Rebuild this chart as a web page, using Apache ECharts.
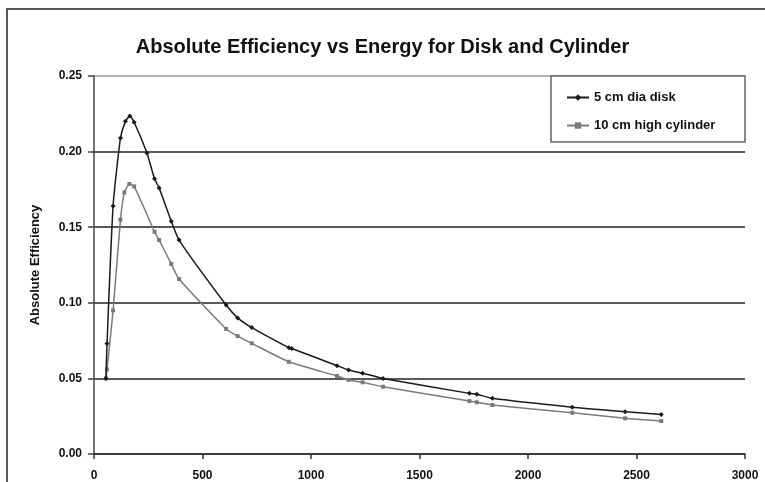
<!DOCTYPE html>
<html>
<head>
<meta charset="utf-8">
<script src="https://cdn.jsdelivr.net/npm/echarts@6/dist/echarts.min.js"></script>
<style>
  html, body { margin: 0; padding: 0; background: #fff; }
  #chart { width: 765px; height: 482px; }
</style>
</head>
<body>
<div id="chart"></div>
<script>
// energy (keV) and absolute efficiency
let diskEnergy = [55, 60, 88, 122, 145, 165, 185, 244, 279, 300, 356, 392, 609, 662, 727, 898, 911, 1120, 1173, 1238, 1332, 1730, 1764, 1836, 2204, 2448, 2614];
let diskEff = [0.050, 0.073, 0.164, 0.209, 0.220, 0.2235, 0.2194, 0.199, 0.182, 0.176, 0.154, 0.1415, 0.0985, 0.090, 0.0836, 0.0703, 0.0698, 0.0584, 0.0556, 0.0534, 0.050, 0.0401, 0.0395, 0.0368, 0.0309, 0.028, 0.0262];
let cylEnergy = [55, 60, 88, 122, 140, 163, 185, 279, 300, 356, 392, 609, 662, 727, 898, 1120, 1173, 1238, 1332, 1730, 1764, 1836, 2204, 2448, 2614];
let cylEff = [0.050, 0.056, 0.095, 0.155, 0.173, 0.1786, 0.177, 0.147, 0.1415, 0.1257, 0.1157, 0.0827, 0.078, 0.0732, 0.061, 0.0516, 0.049, 0.0474, 0.0445, 0.035, 0.0342, 0.0324, 0.0273, 0.0236, 0.0218];
let seriesNames = ['5 cm dia disk', '10 cm high cylinder'];

function pairs(xs, ys) {
  return xs.map(function (x, i) { return [x, ys[i]]; });
}

let myEchart = echarts.init(document.getElementById('chart'));
let font = '"Liberation Sans", Arial, sans-serif';
let option = {
  animation: false,
  backgroundColor: '#fff',
  title: {
    text: 'Absolute Efficiency vs Energy for Disk and Cylinder',
    left: 'center',
    top: 32,
    textStyle: { fontFamily: font, fontSize: 20, fontWeight: 'bold', color: '#111' }
  },
  legend: {
    data: seriesNames,
    orient: 'vertical',
    left: 561,
    top: 86,
    z: 10,
    itemGap: 15,
    itemWidth: 22,
    itemHeight: 8,
    textStyle: { fontFamily: font, fontSize: 13, fontWeight: 'bold', color: '#111' }
  },
  graphic: [
    {
      type: 'rect',
      shape: { x: 7, y: 9, width: 800, height: 500 },
      style: { fill: null, stroke: '#222', lineWidth: 1.5 },
      z: -1
    },
    {
      type: 'rect',
      shape: { x: 551, y: 76, width: 194, height: 66 },
      style: { fill: '#fff', stroke: '#666', lineWidth: 1.5 },
      z: 4
    }
  ],
  grid: { left: 94, right: 20, top: 76, bottom: 28 },
  xAxis: {
    type: 'value',
    min: 0,
    max: 3000,
    interval: 500,
    axisLine: { onZero: false, lineStyle: { color: '#333', width: 1.5 } },
    axisTick: { inside: false, length: 5, lineStyle: { color: '#333', width: 1.5 } },
    axisLabel: {
      margin: 16,
      fontFamily: font,
      fontSize: 12,
      fontWeight: 'bold',
      color: '#111',
      formatter: function (v) { return String(v); }
    },
    splitLine: { show: false }
  },
  yAxis: {
    type: 'value',
    min: 0,
    max: 0.25,
    interval: 0.05,
    name: 'Absolute Efficiency',
    nameLocation: 'middle',
    nameGap: 52,
    nameTextStyle: { fontFamily: font, fontSize: 13, fontWeight: 'bold', color: '#111' },
    axisLine: { show: true, lineStyle: { color: '#444', width: 1.5 } },
    axisTick: { show: true, length: 6, lineStyle: { color: '#444', width: 1.5 } },
    axisLabel: {
      margin: 12,
      fontFamily: font,
      fontSize: 12,
      fontWeight: 'bold',
      color: '#111',
      formatter: function (v) { return v.toFixed(2); }
    },
    splitLine: {
      show: true,
      lineStyle: { color: ['#222', '#222', '#222', '#222', '#222', '#999'], width: 1.5 }
    }
  },
  series: [
    {
      name: seriesNames[0],
      type: 'line',
      smooth: 0.2,
      symbol: 'diamond',
      symbolSize: 5,
      lineStyle: { color: '#1a1a1a', width: 1.5 },
      itemStyle: { color: '#1a1a1a' },
      z: 3,
      data: pairs(diskEnergy, diskEff)
    },
    {
      name: seriesNames[1],
      type: 'line',
      smooth: 0.2,
      symbol: 'rect',
      symbolSize: 4,
      lineStyle: { color: '#7a7a7a', width: 1.5 },
      itemStyle: { color: '#7a7a7a' },
      z: 2,
      data: pairs(cylEnergy, cylEff)
    }
  ]
};
myEchart.setOption(option);
</script>
</body>
</html>
